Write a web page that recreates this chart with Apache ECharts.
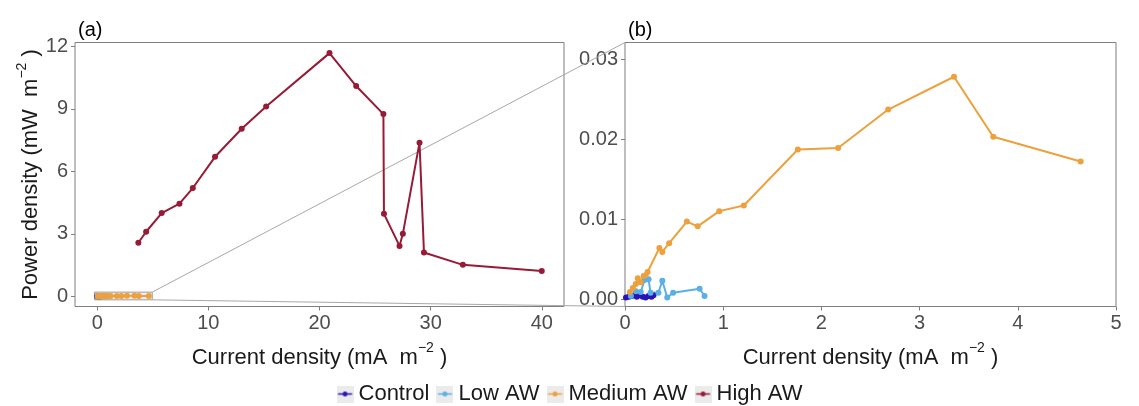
<!DOCTYPE html>
<html>
<head>
<meta charset="utf-8">
<title>Power density vs current density</title>
<script src="https://cdn.jsdelivr.net/npm/echarts@6/dist/echarts.min.js"></script>
<style>
  html, body { margin: 0; padding: 0; background: #ffffff; }
  #chart { width: 1139px; height: 406px; }
</style>
</head>
<body>
<div id="chart"></div>
<script>
// Series names and colours
const seriesNames = ['Control', 'Low AW', 'Medium AW', 'High AW'];
const seriesColors = ['#2A14B8', '#5AAFE6', '#EEA03C', '#971B36'];

// [current density (mA m^-2), power density (mW m^-2)]
const control = [
  [0.01, 0.0002], [0.04, 0.0003], [0.07, 0.0004], [0.10, 0.0005], [0.12, 0.0003],
  [0.15, 0.0005], [0.18, 0.0003], [0.21, 0.0002], [0.24, 0.0004], [0.27, 0.0003], [0.29, 0.0005]
];
const lowAW = [
  [0.06, 0.0004], [0.11, 0.0010], [0.16, 0.0009], [0.20, 0.0024], [0.24, 0.0025], [0.26, 0.0008],
  [0.34, 0.0008], [0.38, 0.0023], [0.43, 0.0002], [0.49, 0.0008], [0.76, 0.0013], [0.81, 0.0004]
];
const mediumAW = [
  [0.05, 0.0009], [0.08, 0.0014], [0.11, 0.0019], [0.13, 0.0026], [0.16, 0.0021], [0.19, 0.0029],
  [0.21, 0.0030], [0.23, 0.0034], [0.35, 0.0064], [0.38, 0.0059], [0.45, 0.0070], [0.63, 0.0097],
  [0.74, 0.0091], [0.96, 0.0110], [1.21, 0.0117], [1.76, 0.0187], [2.17, 0.0189], [2.68, 0.0237],
  [3.35, 0.0278], [3.75, 0.0203], [4.64, 0.0172]
];
const highAW = [
  [3.7, 2.57], [4.4, 3.10], [5.8, 4.00], [7.4, 4.45], [8.6, 5.20], [10.6, 6.70], [13.0, 8.05],
  [15.2, 9.12], [20.9, 11.68], [23.3, 10.10], [25.75, 8.75], [25.8, 3.96], [27.2, 2.42],
  [27.5, 3.00], [29.0, 7.38], [29.4, 2.10], [32.9, 1.51], [40.0, 1.22]
];
const seriesData = [control, lowAW, mediumAW, highAW];

// Tick labels of both panels
const ticksAx = [0, 10, 20, 30, 40];
const ticksAy = [0, 3, 6, 9, 12];
const ticksBx = [0, 1, 2, 3, 4, 5];
const ticksBy = [0, 0.01, 0.02, 0.03];

// Axis extents
const rangeA = { x: [-2, 42], y: [-0.49, 12.19] };
const rangeB = { x: [0, 5], y: [-0.00092, 0.03208] };
// Region of panel (a) shown enlarged in panel (b)
const zoomRegion = { x: [-0.25, 4.95], y: [-0.17, 0.2] };

const FONT = 'Liberation Sans, Arial, sans-serif';
const TICK_COLOR = '#4D4D4D';
const BORDER = '#7F7F7F';

// Legend key: grey square with a line and a point, as in a ggplot key
function keyIcon(color) {
  const s = 34;
  const c = document.createElement('canvas');
  c.width = s; c.height = s;
  const g = c.getContext('2d');
  g.fillStyle = '#EBEBEB';
  g.fillRect(0, 0, s, s);
  g.strokeStyle = color;
  g.lineWidth = 3;
  g.beginPath(); g.moveTo(3, s / 2); g.lineTo(s - 3, s / 2); g.stroke();
  g.fillStyle = color;
  g.beginPath(); g.arc(s / 2, s / 2, 5, 0, Math.PI * 2); g.fill();
  return 'image://' + c.toDataURL();
}

const titleRich = {
  a: { fontSize: 22, color: '#1A1A1A', fontFamily: FONT, lineHeight: 27, verticalAlign: 'bottom' },
  s: { fontSize: 14, color: '#1A1A1A', fontFamily: FONT, lineHeight: 14, verticalAlign: 'top' }
};
const xTitle = '{a|Current density (mA  m}{s|\u22122}{a| )}';
const yTitle = '{a|Power density (mW  m}{s|\u22122}{a| )}';

function xAxisCfg(gridIndex, range, ticks) {
  return {
    type: 'value', gridIndex, min: range[0], max: range[1],
    position: 'bottom',
    axisLine: { show: false, onZero: false },
    axisTick: { show: true, customValues: ticks, length: 4, lineStyle: { color: BORDER, width: 1 } },
    axisLabel: { customValues: ticks, color: TICK_COLOR, fontSize: 20, fontFamily: FONT, margin: 7 },
    splitLine: { show: false },
    name: xTitle, nameLocation: 'middle', nameGap: 35,
    nameTextStyle: { rich: titleRich }
  };
}
function yAxisCfg(gridIndex, range, ticks, fmt, withTitle) {
  const cfg = {
    type: 'value', gridIndex, min: range[0], max: range[1],
    position: 'left',
    axisLine: { show: false, onZero: false },
    axisTick: { show: true, customValues: ticks, length: 4, lineStyle: { color: BORDER, width: 1 } },
    axisLabel: { customValues: ticks, color: TICK_COLOR, fontSize: 20, fontFamily: FONT, margin: 7, formatter: fmt },
    splitLine: { show: false }
  };
  if (withTitle) {
    Object.assign(cfg, {
      name: yTitle, nameLocation: 'middle', nameGap: 32, nameRotate: 90,
      nameTextStyle: { rich: titleRich }
    });
  }
  return cfg;
}

const series = [];
[0, 1].forEach(function (gi) {
  seriesData.forEach(function (data, i) {
    const s = {
      name: seriesNames[i], type: 'line', xAxisIndex: gi, yAxisIndex: gi,
      data: data, clip: true,
      symbol: 'circle', symbolSize: 6, showSymbol: true,
      lineStyle: { color: seriesColors[i], width: 2 },
      itemStyle: { color: seriesColors[i] },
      emphasis: { disabled: true },
      animation: false, z: 3
    };
    if (gi === 0 && i === 0) {
      s.markArea = {
        silent: true,
        itemStyle: { color: 'rgba(215,215,215,0.35)', borderColor: '#9A9A9A', borderWidth: 1 },
        data: [[{ coord: [zoomRegion.x[0], zoomRegion.y[0]] }, { coord: [zoomRegion.x[1], zoomRegion.y[1]] }]]
      };
    }
    series.push(s);
  });
});

const chart = echarts.init(document.getElementById('chart'), null, { renderer: 'canvas' });
chart.setOption({
  backgroundColor: '#ffffff',
  animation: false,
  title: [
    { text: '(a)', left: 73, top: 15, textStyle: { fontSize: 20, fontWeight: 'normal', color: '#000', fontFamily: FONT } },
    { text: '(b)', left: 623, top: 15, textStyle: { fontSize: 20, fontWeight: 'normal', color: '#000', fontFamily: FONT } }
  ],
  grid: [
    { left: 75, top: 42.5, width: 489, height: 264, show: true, borderColor: BORDER, borderWidth: 1, backgroundColor: 'transparent' },
    { left: 625, top: 42.5, width: 491, height: 264, show: true, borderColor: BORDER, borderWidth: 1, backgroundColor: 'transparent' }
  ],
  xAxis: [xAxisCfg(0, rangeA.x, ticksAx), xAxisCfg(1, rangeB.x, ticksBx)],
  yAxis: [
    yAxisCfg(0, rangeA.y, ticksAy, function (v) { return String(v); }, true),
    yAxisCfg(1, rangeB.y, ticksBy, function (v) { return v.toFixed(2); }, false)
  ],
  legend: {
    top: 378, left: 'center',
    itemWidth: 17, itemHeight: 17, itemGap: 7,
    textStyle: { fontSize: 22, color: '#1A1A1A', fontFamily: FONT },
    selectedMode: false,
    data: seriesNames.map(function (n, i) { return { name: n, icon: keyIcon(seriesColors[i]) }; })
  },
  series: series
});

// Connector lines from the zoom region to the corners of panel (b)
const pA1 = chart.convertToPixel({ xAxisIndex: 0, yAxisIndex: 0 }, [zoomRegion.x[1], zoomRegion.y[1]]);
const pA2 = chart.convertToPixel({ xAxisIndex: 0, yAxisIndex: 0 }, [zoomRegion.x[1], zoomRegion.y[0]]);
const pB1 = chart.convertToPixel({ xAxisIndex: 1, yAxisIndex: 1 }, [rangeB.x[0], rangeB.y[1]]);
const pB2 = chart.convertToPixel({ xAxisIndex: 1, yAxisIndex: 1 }, [rangeB.x[0], rangeB.y[0]]);
chart.setOption({
  graphic: [
    { type: 'line', silent: true, z: 1, shape: { x1: pA1[0], y1: pA1[1], x2: pB1[0], y2: pB1[1] }, style: { stroke: '#A8A8A8', lineWidth: 1 } },
    { type: 'line', silent: true, z: 1, shape: { x1: pA2[0], y1: pA2[1], x2: pB2[0], y2: pB2[1] }, style: { stroke: '#A8A8A8', lineWidth: 1 } }
  ]
});
</script>
</body>
</html>
